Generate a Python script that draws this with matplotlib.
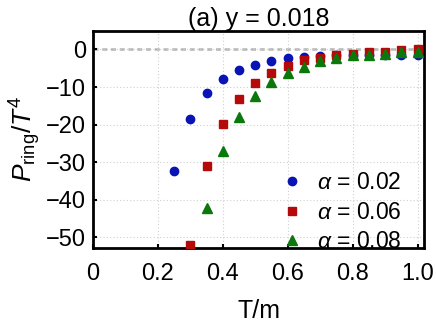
import numpy as np
import matplotlib.pyplot as plt

plt.rcParams['font.family'] = ['Liberation Sans', 'DejaVu Sans']
plt.rcParams['mathtext.fontset'] = 'custom'
plt.rcParams['mathtext.rm'] = 'Liberation Sans'
plt.rcParams['mathtext.it'] = 'Liberation Sans:italic'

# datos
t_blue = [0.25, 0.30, 0.35, 0.40, 0.45, 0.50, 0.55, 0.60, 0.65, 0.70, 0.75, 0.80, 0.85, 0.90, 0.95, 1.00]
p_blue = [-32.4, -18.5, -11.7, -7.8, -5.6, -4.2, -3.2, -2.4, -2.0, -1.7, -1.6, -1.5, -1.5, -1.4, -1.4, -1.4]

t_red = [0.30, 0.35, 0.40, 0.45, 0.50, 0.55, 0.60, 0.65, 0.70, 0.75, 0.80, 0.85, 0.90, 0.95, 1.00]
p_red = [-52.0, -31.1, -19.8, -13.1, -8.8, -6.2, -4.3, -2.9, -2.2, -1.4, -1.1, -0.7, -0.7, -0.2, 0.0]

t_green = [0.35, 0.40, 0.45, 0.50, 0.55, 0.60, 0.65, 0.70, 0.75, 0.80, 0.85, 0.90, 0.95, 1.00]
p_green = [-42.1, -27.0, -17.9, -12.5, -8.7, -6.2, -4.6, -3.2, -2.4, -1.6, -1.4, -1.1, -0.8, -0.6]

fig = plt.figure(figsize=(4.36, 3.27), dpi=100)
ax = fig.add_axes([93/436, 1-248/327, 331/436, 217/327])

ax.grid(True, color='#d0d0d0', linestyle=(0, (1, 2)), linewidth=0.8)
ax.axhline(0, color='#b4b4b4', linestyle=(0, (2, 1.5)), linewidth=1.8, zorder=1)

ax.plot(t_blue, p_blue, 'o', color='#0a14b4', markersize=6, label=r'$\alpha$ = 0.02', zorder=3)
ax.plot(t_red, p_red, 's', color='#b40a0a', markersize=5.3, label=r'$\alpha$ = 0.06', zorder=3)
ax.plot(t_green, p_green, '^', color='#0a780a', markersize=6.5, label=r'$\alpha$ = 0.08', zorder=3)

ax.set_xlim(0, 1.02)
ax.set_ylim(-52.8, 4.9)
ax.set_xticks([0, 0.2, 0.4, 0.6, 0.8, 1.0])
ax.set_xticklabels(['0', '0.2', '0.4', '0.6', '0.8', '1.0'])
ax.set_yticks([0, -10, -20, -30, -40, -50])
ax.set_yticklabels(['0', '\u221210', '\u221220', '\u221230', '\u221240', '\u221250'])
ax.tick_params(direction='in', length=3, width=1.5, labelsize=17)
ax.tick_params(axis='x', pad=11)
ax.tick_params(axis='y', pad=5)
for s in ax.spines.values():
    s.set_linewidth(2)

ax.set_xlabel('T/m', fontsize=18, labelpad=10)
ax.set_ylabel(r'$P_{\rm ring}/T^4$', fontsize=19, labelpad=2)
ax.set_title('(a) y = 0.018', fontsize=18, pad=3)

ax.legend(loc='lower right', frameon=False, fontsize=16.5, handlelength=1.0,
          handletextpad=0.6, labelspacing=0.28, borderaxespad=0.0,
          bbox_to_anchor=(0.96, -0.065))

fig.savefig('out.png', dpi=100)
